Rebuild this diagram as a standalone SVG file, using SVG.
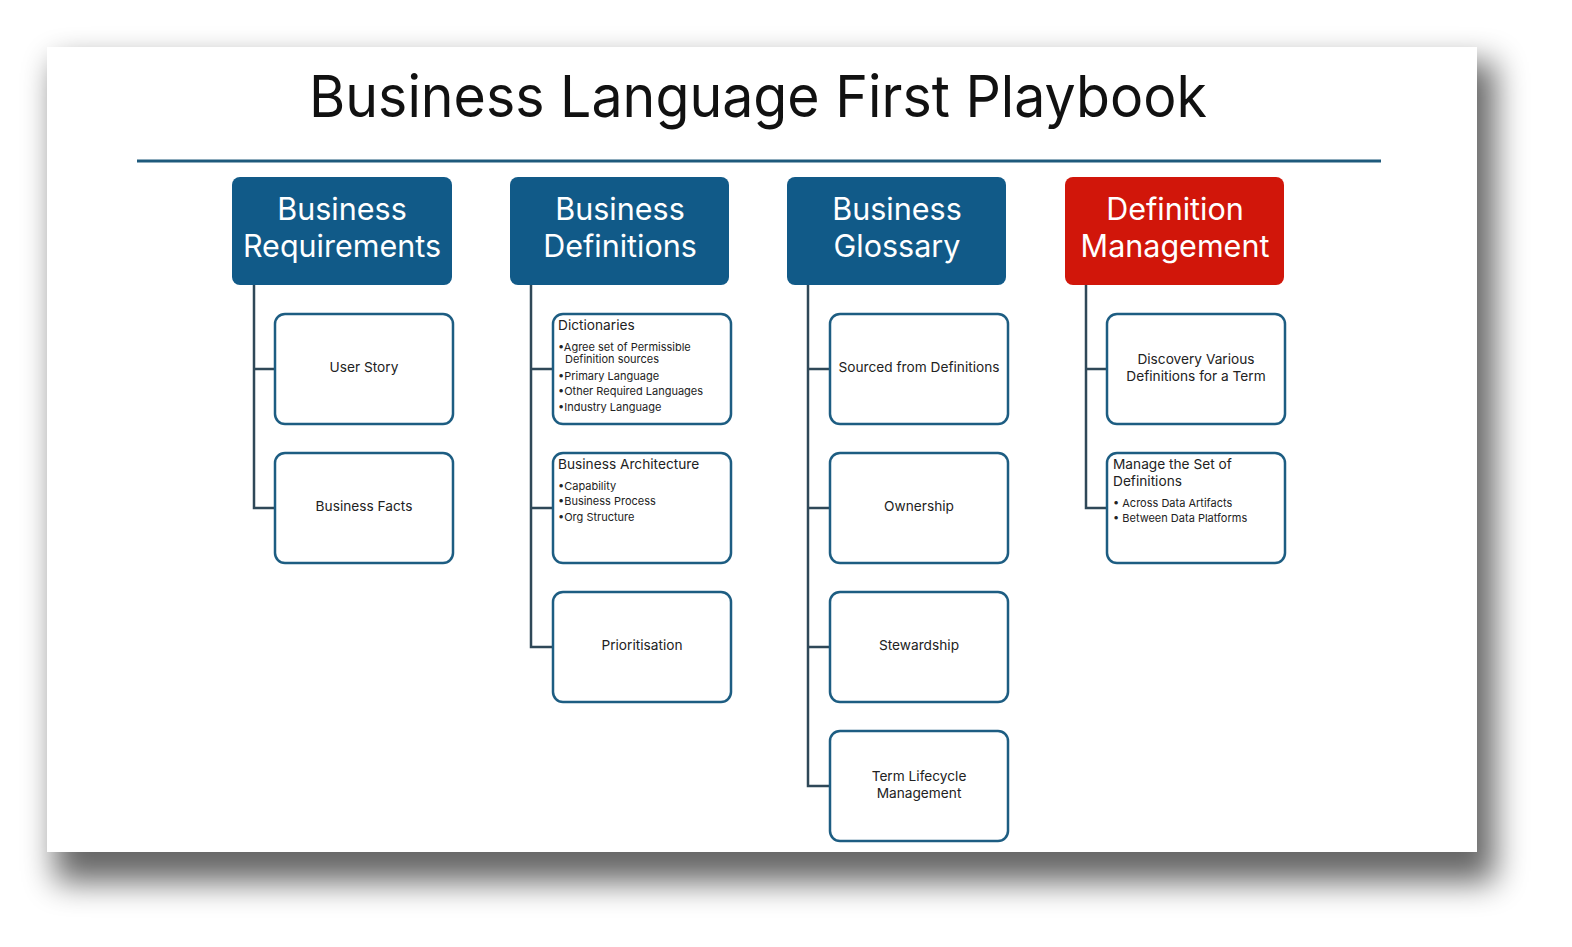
<svg xmlns="http://www.w3.org/2000/svg" width="1572" height="947" viewBox="0 0 1572 947">
<defs>
<filter id="sh" x="-10%" y="-10%" width="125%" height="130%">
<feGaussianBlur stdDeviation="16"/>
</filter>
<style>
.hdr{fill:#115a88;}
.red{fill:#d1160a;}
.ht{font-family:Inter,"Liberation Sans",sans-serif;font-size:30.5px;fill:#fff;text-anchor:middle;}
.box{fill:#fff;stroke:#1d5d82;stroke-width:2.5;}
.ct{font-family:Inter,"Liberation Sans",sans-serif;font-size:13.7px;fill:#222;text-anchor:middle;}
.tt{font-family:Inter,"Liberation Sans",sans-serif;font-size:13.7px;fill:#222;}
.bt{font-family:Inter,"Liberation Sans",sans-serif;font-size:11px;fill:#222;}
.cn{fill:none;stroke:#2f4858;stroke-width:2.5;}
</style>
</defs>
<rect width="1572" height="947" fill="#fff"/>
<rect x="55" y="62" width="1440" height="820" fill="#000" opacity="0.6" filter="url(#sh)"/>
<rect x="47" y="47" width="1430" height="805" fill="#fff"/>
<text x="758" y="117" font-family="Inter,'Liberation Sans',sans-serif" font-size="58" fill="#111" text-anchor="middle" textLength="898" lengthAdjust="spacingAndGlyphs">Business Language First Playbook</text>
<line x1="137" y1="161" x2="1381" y2="161" stroke="#1e5a7c" stroke-width="3"/>
<g id="connectors">
<path class="cn" d="M254 285 V508 H275 M254 369 H275"/>
<path class="cn" d="M531 285 V647 H553 M531 369 H553 M531 508 H553"/>
<path class="cn" d="M808 285 V786 H830 M808 369 H830 M808 508 H830 M808 647 H830"/>
<path class="cn" d="M1086 285 V508 H1107 M1086 369 H1107"/>
</g>
<g id="h-br"><rect class="hdr" x="232" y="177" width="220" height="108" rx="8"/><text class="ht" x="342" y="220">Business</text><text class="ht" x="342" y="257">Requirements</text></g>
<g id="h-bd"><rect class="hdr" x="510" y="177" width="219" height="108" rx="8"/><text class="ht" x="620" y="220">Business</text><text class="ht" x="620" y="257">Definitions</text></g>
<g id="h-bg"><rect class="hdr" x="787" y="177" width="219" height="108" rx="8"/><text class="ht" x="897" y="220">Business</text><text class="ht" x="897" y="257">Glossary</text></g>
<g id="h-dm"><rect class="red" x="1065" y="177" width="219" height="108" rx="8"/><text class="ht" x="1175" y="220">Definition</text><text class="ht" x="1175" y="257">Management</text></g>

<g id="n-userstory"><rect class="box" x="275" y="314" width="178" height="110" rx="10"/><text class="ct" x="364" y="372">User Story</text></g>
<g id="n-facts"><rect class="box" x="275" y="453" width="178" height="110" rx="10"/><text class="ct" x="364" y="511">Business Facts</text></g>

<g id="n-dict"><rect class="box" x="553" y="314" width="178" height="110" rx="10"/>
<text class="tt" x="558" y="330">Dictionaries</text>
<text class="bt" x="558" y="351">•Agree set of Permissible</text>
<text class="bt" x="565" y="363">Definition sources</text>
<text class="bt" x="558" y="380">•Primary Language</text>
<text class="bt" x="558" y="395">•Other Required Languages</text>
<text class="bt" x="558" y="411">•Industry Language</text></g>
<g id="n-arch"><rect class="box" x="553" y="453" width="178" height="110" rx="10"/>
<text class="tt" x="558" y="469">Business Architecture</text>
<text class="bt" x="558" y="490">•Capability</text>
<text class="bt" x="558" y="505">•Business Process</text>
<text class="bt" x="558" y="521">•Org Structure</text></g>
<g id="n-prio"><rect class="box" x="553" y="592" width="178" height="110" rx="10"/><text class="ct" x="642" y="650">Prioritisation</text></g>

<g id="n-sourced"><rect class="box" x="830" y="314" width="178" height="110" rx="10"/><text class="ct" x="919" y="372">Sourced from Definitions</text></g>
<g id="n-own"><rect class="box" x="830" y="453" width="178" height="110" rx="10"/><text class="ct" x="919" y="511">Ownership</text></g>
<g id="n-stew"><rect class="box" x="830" y="592" width="178" height="110" rx="10"/><text class="ct" x="919" y="650">Stewardship</text></g>
<g id="n-life"><rect class="box" x="830" y="731" width="178" height="110" rx="10"/><text class="ct" x="919" y="781">Term Lifecycle</text><text class="ct" x="919" y="798">Management</text></g>

<g id="n-disc"><rect class="box" x="1107" y="314" width="178" height="110" rx="10"/><text class="ct" x="1196" y="364">Discovery Various</text><text class="ct" x="1196" y="381">Definitions for a Term</text></g>
<g id="n-manage"><rect class="box" x="1107" y="453" width="178" height="110" rx="10"/>
<text class="tt" x="1113" y="469">Manage the Set of</text>
<text class="tt" x="1113" y="486">Definitions</text>
<text class="bt" x="1113" y="507">•  Across Data Artifacts</text>
<text class="bt" x="1113" y="522">•  Between Data Platforms</text></g>
</svg>
